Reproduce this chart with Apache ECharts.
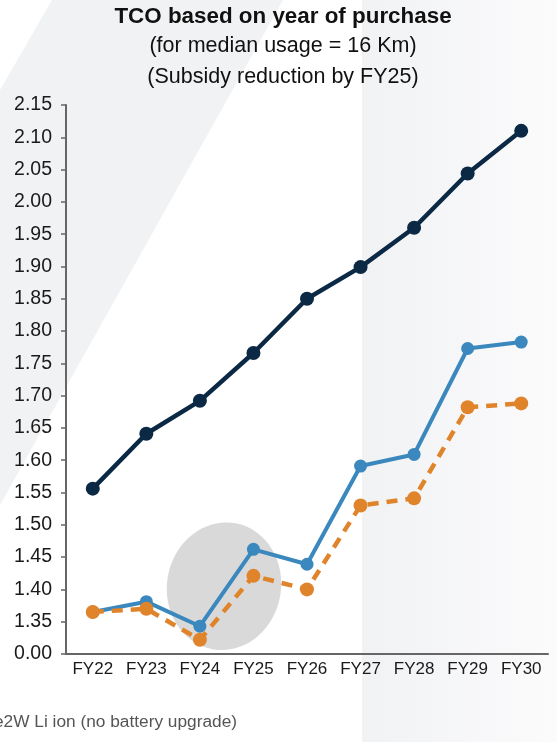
<!DOCTYPE html>
<html>
<head>
<meta charset="utf-8">
<script src="https://cdn.jsdelivr.net/npm/echarts@6/dist/echarts.min.js"></script>
<style>
html,body{margin:0;padding:0;background:#fff;}
#chart{width:557px;height:742px;}
</style>
</head>
<body>
<div id="chart"></div>
<script>
// ---- data ----
const categories = ['FY22','FY23','FY24','FY25','FY26','FY27','FY28','FY29','FY30'];
const seriesDark   = [1.556, 1.641, 1.692, 1.766, 1.850, 1.899, 1.960, 2.044, 2.110];
const seriesBlue   = [1.365, 1.381, 1.343, 1.462, 1.439, 1.591, 1.609, 1.773, 1.783];
const seriesOrange = [1.365, 1.370, 1.322, 1.421, 1.400, 1.530, 1.541, 1.682, 1.688];
const yMin = 1.30, yMax = 2.15, yStep = 0.05;
const yBreakLabel = '0.00';
const titleLines = ['TCO based on year of purchase', '(for median usage = 16 Km)', '(Subsidy reduction by FY25)'];
const footnote = 'e2W Li ion (no battery upgrade)';

const chart = echarts.init(document.getElementById('chart'), null, {renderer:'canvas'});
const FONT = '"Liberation Sans", Arial, Helvetica, sans-serif';

const option = {
  animation: false,
  backgroundColor: '#ffffff',
  grid: {left: 66, right: 9, top: 105, bottom: 88, containLabel: false},
  xAxis: {
    type: 'category',
    data: categories,
    boundaryGap: true,
    axisLine: {show: true, lineStyle: {color: '#666', width: 2}},
    axisTick: {show: false},
    axisLabel: {color: '#1a1a1a', fontSize: 17, fontFamily: FONT, margin: 7},
    splitLine: {show: false}
  },
  yAxis: {
    type: 'value',
    min: yMin, max: yMax, interval: yStep,
    axisLine: {show: true, lineStyle: {color: '#666', width: 2}},
    axisTick: {show: true, length: 5, lineStyle: {color: '#666', width: 1.5}},
    axisLabel: {
      color: '#1a1a1a', fontSize: 19.5, fontFamily: FONT, margin: 14,
      formatter: v => Math.abs(v - yMin) < 1e-6 ? yBreakLabel : v.toFixed(2)
    },
    splitLine: {show: false}
  },
  series: [
    {
      type: 'line', data: seriesDark, z: 3,
      symbol: 'circle', symbolSize: 14,
      lineStyle: {color: '#0b2945', width: 4.5},
      itemStyle: {color: '#0b2945'}
    },
    {
      type: 'line', data: seriesBlue, z: 4,
      symbol: 'circle', symbolSize: 13,
      lineStyle: {color: '#3a88bd', width: 4},
      itemStyle: {color: '#3a88bd'}
    },
    {
      type: 'line', data: seriesOrange, z: 5,
      symbol: 'circle', symbolSize: 14,
      lineStyle: {color: '#e0842b', width: 4.5, type: [11, 8]},
      itemStyle: {color: '#e0842b'}
    }
  ]
};
chart.setOption(option);

// decorations
const p24 = chart.convertToPixel({gridIndex: 0}, ['FY24', 1.405]);
const p25 = chart.convertToPixel({gridIndex: 0}, ['FY25', 1.405]);
const ecx = p24[0] + (p25[0] - p24[0]) * 0.45, ecy = p24[1];

chart.setOption({
  graphic: [
    {
      type: 'polygon', z: -10, silent: true,
      shape: {points: [[52,0],[283,0],[0,505],[0,90]]},
      style: {fill: '#f1f2f4'}
    },
    {
      type: 'rect', z: -10, silent: true,
      shape: {x: 362, y: 0, width: 195, height: 742},
      style: {fill: new echarts.graphic.LinearGradient(0,0,1,0,[
        {offset: 0, color: '#f1f2f4'}, {offset: 1, color: '#fbfbfc'}])}
    },
    {
      type: 'ellipse', z: 1, silent: true,
      x: ecx, y: ecy, rotation: -0.18,
      shape: {cx: 0, cy: 0, rx: 57, ry: 64},
      style: {fill: '#d9d9d9'}
    },
    {
      type: 'text', x: 283, y: 17, z: 10,
      style: {text: titleLines[0], font: 'bold 22.4px ' + FONT, fill: '#111', align: 'center', verticalAlign: 'middle'}
    },
    {
      type: 'text', x: 283, y: 46, z: 10,
      style: {text: titleLines[1], font: '21.5px ' + FONT, fill: '#111', align: 'center', verticalAlign: 'middle'}
    },
    {
      type: 'text', x: 283, y: 77, z: 10,
      style: {text: titleLines[2], font: '21.5px ' + FONT, fill: '#111', align: 'center', verticalAlign: 'middle'}
    },
    {
      type: 'text', x: -6, y: 722, z: 10,
      style: {text: footnote, font: '17.3px ' + FONT, fill: '#555', align: 'left', verticalAlign: 'middle'}
    }
  ]
});
</script>
</body>
</html>
